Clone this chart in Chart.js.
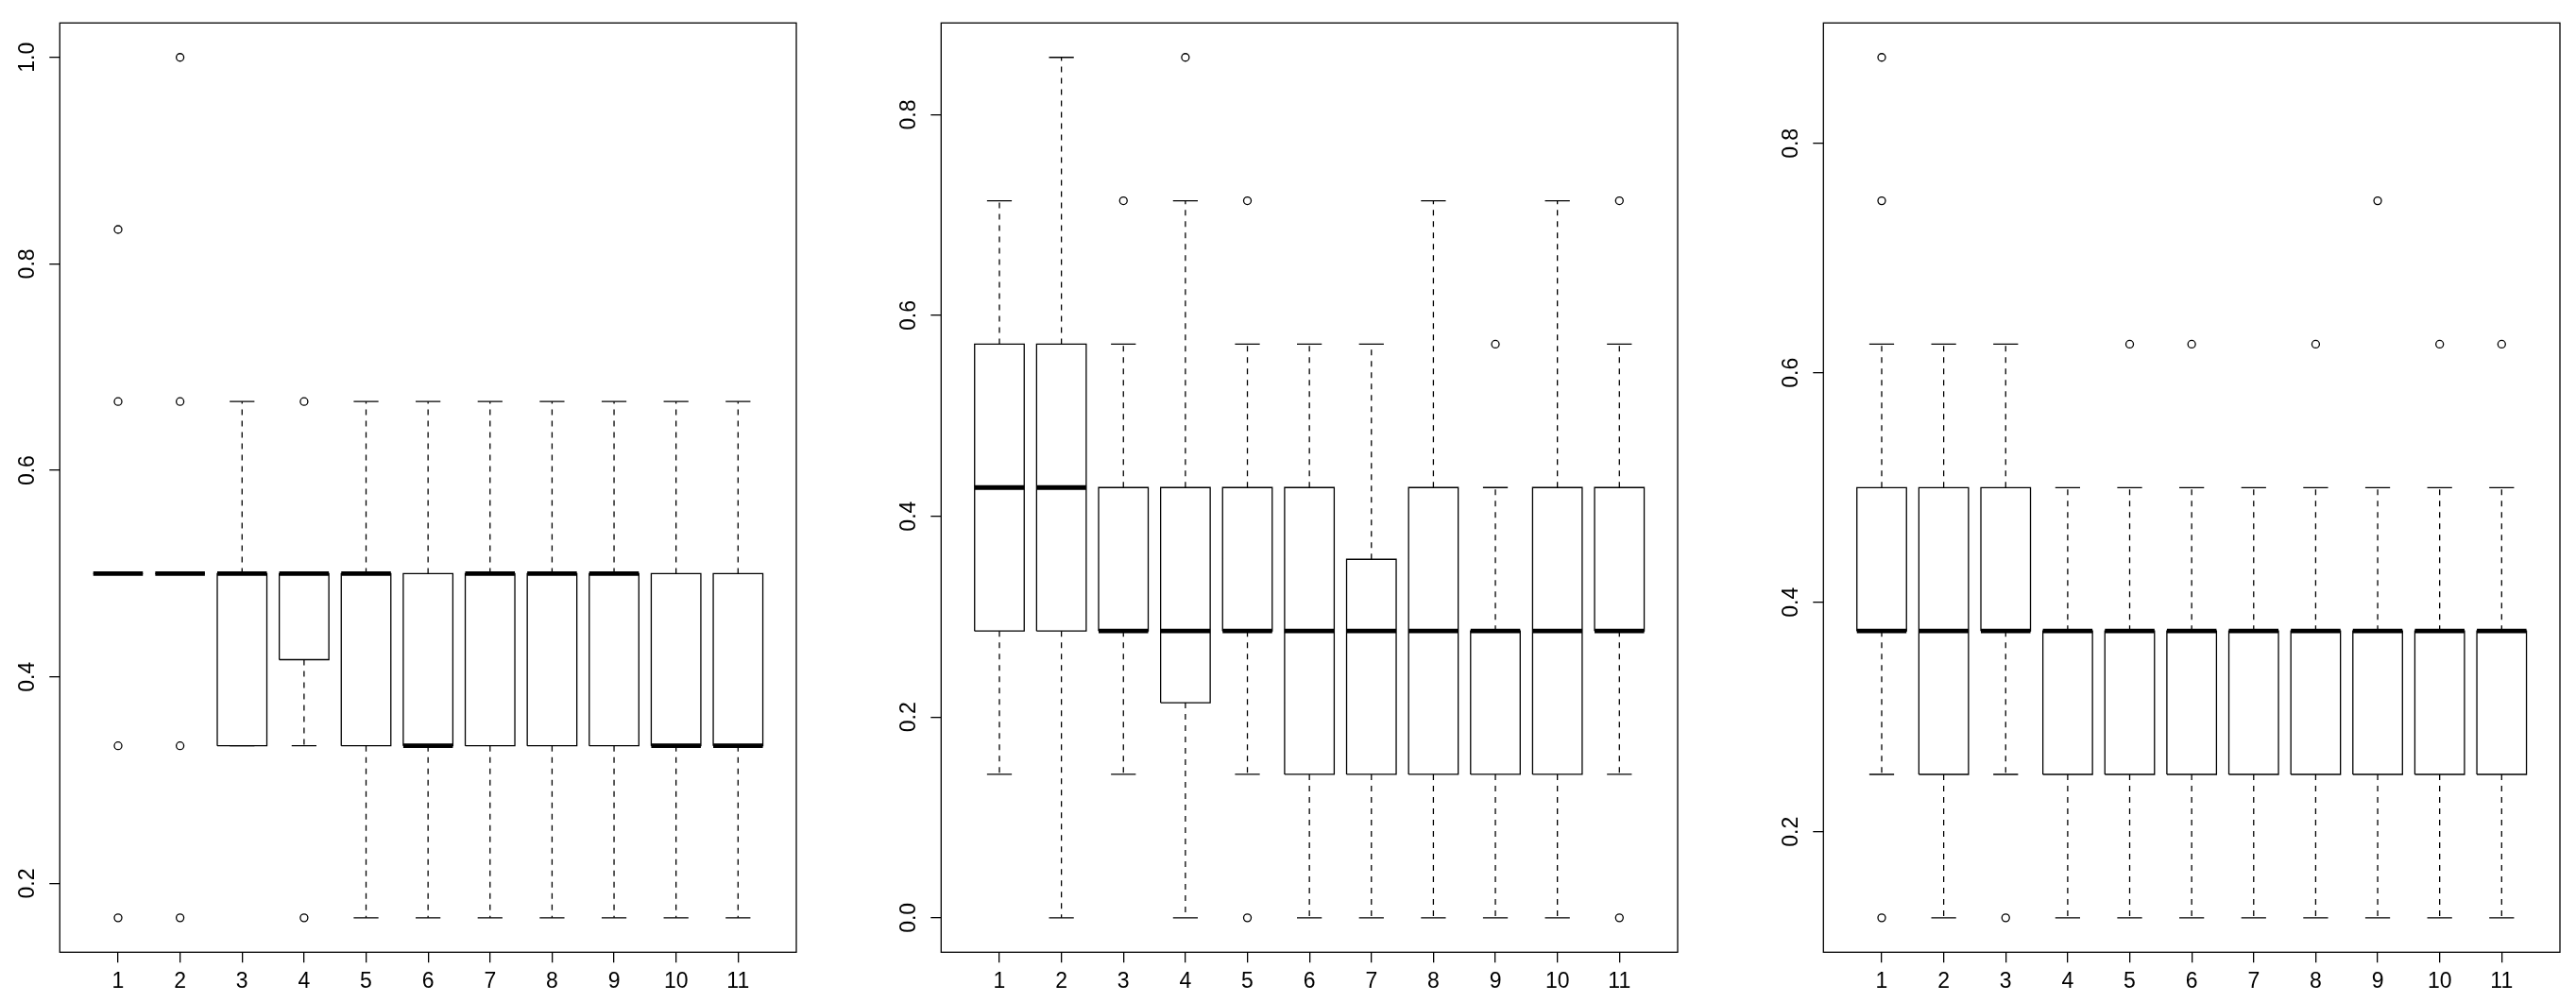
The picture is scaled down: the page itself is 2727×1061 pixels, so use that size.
<!DOCTYPE html>
<html>
<head>
<meta charset="utf-8">
<script src="https://cdn.jsdelivr.net/npm/chart.js@4.4.1/dist/chart.umd.min.js"></script>
<style>
  html, body { margin: 0; padding: 0; background: #fff; }
  body { width: 2727px; height: 1061px; position: relative; overflow: hidden; }
  .panel { position: absolute; top: 0; width: 860px; height: 1061px; }
</style>
</head>
<body>
<div class="panel" style="left:0px"><canvas id="c1" width="860" height="1061"></canvas></div>
<div class="panel" style="left:933px"><canvas id="c2" width="860" height="1061"></canvas></div>
<div class="panel" style="left:1867px"><canvas id="c3" width="860" height="1061"></canvas></div>
<script>
// groups on the x axis (same for all three panels)
const groups = ['1', '2', '3', '4', '5', '6', '7', '8', '9', '10', '11'];

// panel 1 : whisker low, Q1, median, Q3, whisker high, outliers
const p1Low  = [0.5, 0.5, 0.3333, 0.3333, 0.1667, 0.1667, 0.1667, 0.1667, 0.1667, 0.1667, 0.1667];
const p1Q1   = [0.5, 0.5, 0.3333, 0.4167, 0.3333, 0.3333, 0.3333, 0.3333, 0.3333, 0.3333, 0.3333];
const p1Med  = [0.5, 0.5, 0.5, 0.5, 0.5, 0.3333, 0.5, 0.5, 0.5, 0.3333, 0.3333];
const p1Q3   = [0.5, 0.5, 0.5, 0.5, 0.5, 0.5, 0.5, 0.5, 0.5, 0.5, 0.5];
const p1High = [0.5, 0.5, 0.6667, 0.5, 0.6667, 0.6667, 0.6667, 0.6667, 0.6667, 0.6667, 0.6667];
const p1Out  = [[0.8333, 0.6667, 0.3333, 0.1667], [1.0, 0.6667, 0.3333, 0.1667], [], [0.6667, 0.1667], [], [], [], [], [], [], []];
const p1YTicks = [0.2, 0.4, 0.6, 0.8, 1.0];

// panel 2
const p2Low  = [0.1429, 0, 0.1429, 0, 0.1429, 0, 0, 0, 0, 0, 0.1429];
const p2Q1   = [0.2857, 0.2857, 0.2857, 0.2143, 0.2857, 0.1429, 0.1429, 0.1429, 0.1429, 0.1429, 0.2857];
const p2Med  = [0.4286, 0.4286, 0.2857, 0.2857, 0.2857, 0.2857, 0.2857, 0.2857, 0.2857, 0.2857, 0.2857];
const p2Q3   = [0.5714, 0.5714, 0.4286, 0.4286, 0.4286, 0.4286, 0.3571, 0.4286, 0.2857, 0.4286, 0.4286];
const p2High = [0.7143, 0.8571, 0.5714, 0.7143, 0.5714, 0.5714, 0.5714, 0.7143, 0.4286, 0.7143, 0.5714];
const p2Out  = [[], [], [0.7143], [0.8571], [0.7143, 0], [], [], [], [0.5714], [], [0.7143, 0]];
const p2YTicks = [0.0, 0.2, 0.4, 0.6, 0.8];

// panel 3
const p3Low  = [0.25, 0.125, 0.25, 0.125, 0.125, 0.125, 0.125, 0.125, 0.125, 0.125, 0.125];
const p3Q1   = [0.375, 0.25, 0.375, 0.25, 0.25, 0.25, 0.25, 0.25, 0.25, 0.25, 0.25];
const p3Med  = [0.375, 0.375, 0.375, 0.375, 0.375, 0.375, 0.375, 0.375, 0.375, 0.375, 0.375];
const p3Q3   = [0.5, 0.5, 0.5, 0.375, 0.375, 0.375, 0.375, 0.375, 0.375, 0.375, 0.375];
const p3High = [0.625, 0.625, 0.625, 0.5, 0.5, 0.5, 0.5, 0.5, 0.5, 0.5, 0.5];
const p3Out  = [[0.875, 0.75, 0.125], [], [0.125], [], [0.625], [0.625], [], [0.625], [0.75], [0.625], [0.625]];
const p3YTicks = [0.2, 0.4, 0.6, 0.8];

const FONT = { family: '"Liberation Sans", Arial, Helvetica, sans-serif', size: 23 };
const BOXW = 0.4;     // half box width, in x units
const STAPLE = 0.2;   // half staple width
const LW = 1.3;

const gap = x => ({ x: x, y: null });

// box frame around the plot region, like R's box()
const frame = {
  id: 'frame',
  afterDraw(chart) {
    const { ctx, chartArea: a } = chart;
    ctx.save();
    ctx.strokeStyle = '#000';
    ctx.lineWidth = LW;
    ctx.strokeRect(a.left, a.top, a.right - a.left, a.bottom - a.top);
    ctx.restore();
  }
};

function lineSet(data, extra) {
  return Object.assign({
    type: 'line',
    data: data,
    borderColor: '#000',
    borderWidth: LW,
    pointRadius: 0,
    fill: false,
    spanGaps: false,
    tension: 0
  }, extra);
}

function boxplot(id, low, q1, med, q3, high, out, yTicks) {
  const whisk = [], staples = [], boxes = [], meds = [], pts = [];
  groups.forEach((g, k) => {
    const x = k + 1;
    whisk.push({ x: x, y: q3[k] }, { x: x, y: high[k] }, gap(x));
    whisk.push({ x: x, y: q1[k] }, { x: x, y: low[k] }, gap(x));
    staples.push({ x: x - STAPLE, y: high[k] }, { x: x + STAPLE, y: high[k] }, gap(x));
    staples.push({ x: x - STAPLE, y: low[k] }, { x: x + STAPLE, y: low[k] }, gap(x));
    boxes.push({ x: x - BOXW, y: q1[k] }, { x: x + BOXW, y: q1[k] }, { x: x + BOXW, y: q3[k] },
               { x: x - BOXW, y: q3[k] }, { x: x - BOXW, y: q1[k] }, gap(x));
    meds.push({ x: x - BOXW, y: med[k] }, { x: x + BOXW, y: med[k] }, gap(x));
    out[k].forEach(v => pts.push({ x: x, y: v }));
  });

  // R style range: data range plus 4% on each side
  const all = low.concat(high, out.flat());
  const lo = Math.min(...all), hi = Math.max(...all);
  const pad = (hi - lo) * 0.04;
  const xPad = (groups.length) * 0.04;

  new Chart(document.getElementById(id), {
    type: 'line',
    data: {
      datasets: [
        lineSet(pts, { showLine: false, pointRadius: 4, pointBorderWidth: LW, pointStyle: 'circle',
                       pointBackgroundColor: 'rgba(0,0,0,0)', pointBorderColor: '#000', order: 0 }),
        lineSet(meds, { borderWidth: 4.8, borderCapStyle: 'butt', order: 1 }),
        lineSet(boxes, { borderJoinStyle: 'miter', order: 2 }),
        lineSet(staples, { order: 3 }),
        lineSet(whisk, { borderDash: [6, 6], order: 4 })
      ]
    },
    options: {
      responsive: false,
      devicePixelRatio: 1,
      animation: false,
      events: [],
      layout: { padding: { left: 0, top: 24.3, right: 17, bottom: 0 } },
      plugins: { legend: { display: false }, tooltip: { enabled: false } },
      scales: {
        x: {
          type: 'linear',
          min: 0.5 - xPad,
          max: groups.length + 0.5 + xPad,
          bounds: 'data',
          border: { display: false },
          grid: { drawOnChartArea: false, drawTicks: true, tickLength: 11, color: '#000', lineWidth: LW },
          ticks: {
            autoSkip: false, maxRotation: 0, color: '#000', font: FONT, padding: 7,
            callback: v => groups[v - 1]
          },
          afterBuildTicks: s => { s.ticks = groups.map((g, k) => ({ value: k + 1 })); },
          afterFit: s => { s.height = 52.7; }
        },
        y: {
          type: 'linear',
          min: lo - pad,
          max: hi + pad,
          bounds: 'data',
          border: { display: false },
          grid: { drawOnChartArea: false, drawTicks: true, tickLength: 11, color: '#000', lineWidth: LW },
          ticks: {
            autoSkip: false, minRotation: 90, maxRotation: 90, crossAlign: 'center',
            color: '#000', font: FONT, padding: 7,
            callback: v => v.toFixed(1)
          },
          afterBuildTicks: s => { s.ticks = yTicks.map(v => ({ value: v })); },
          afterFit: s => { s.width = 63.3; }
        }
      }
    },
    plugins: [frame]
  });
}

boxplot('c1', p1Low, p1Q1, p1Med, p1Q3, p1High, p1Out, p1YTicks);
boxplot('c2', p2Low, p2Q1, p2Med, p2Q3, p2High, p2Out, p2YTicks);
boxplot('c3', p3Low, p3Q1, p3Med, p3Q3, p3High, p3Out, p3YTicks);
</script>
</body>
</html>
